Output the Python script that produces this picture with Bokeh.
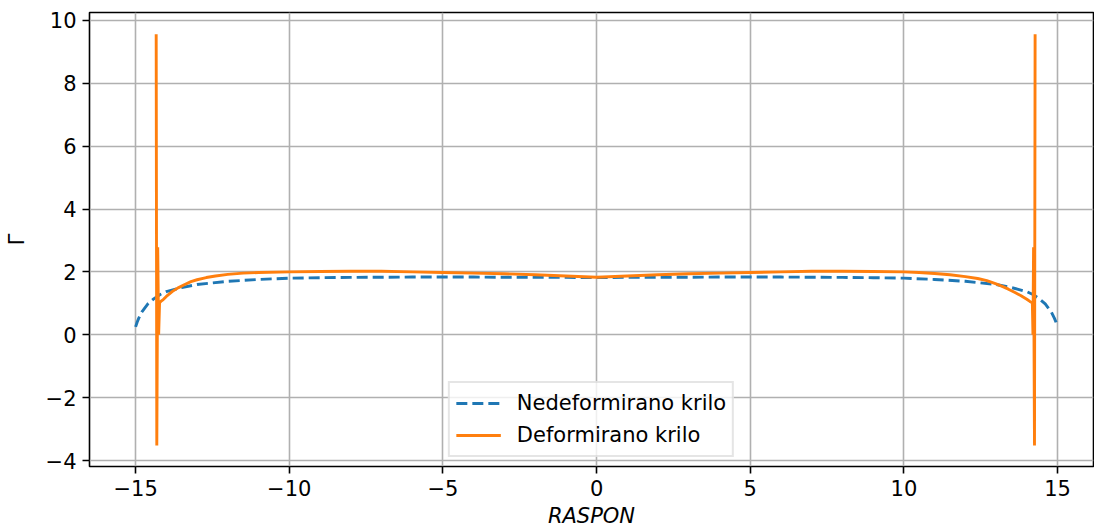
from bokeh.plotting import figure
from bokeh.models import Range1d, FixedTicker, Legend, LegendItem
from bokeh.embed import file_html
from bokeh.resources import INLINE

# Undeformed wing (dashed blue)
blue_x_left = [-15.0, -14.95, -14.9, -14.8, -14.6, -14.4, -14.2, -14.0, -13.5, -13.0, -12.0, -11.0, -10.0,
               -9.0, -8.0, -7.0, -6.0, -5.0, -4.0, -3.0, -2.0, -1.0]
blue_y_left = [0.25, 0.40, 0.52, 0.72, 0.98, 1.15, 1.28, 1.37, 1.50, 1.60, 1.70, 1.76, 1.80,
               1.815, 1.825, 1.83, 1.835, 1.835, 1.835, 1.83, 1.83, 1.825]
blue_x = blue_x_left + [0.0] + [-v for v in reversed(blue_x_left)]
blue_y = blue_y_left + [1.82] + list(reversed(blue_y_left))

# Deformed wing (solid orange)
orange_x = [-14.33, -14.31, -14.28, -14.25, -14.22, -14.18, -14.1, -14.0, -13.8, -13.6, -13.4, -13.2, -13.0,
            -12.7, -12.4, -12.0, -11.5, -11.0, -10.0, -9.0, -8.0, -7.0, -6.0, -5.0, -4.0, -3.0, -2.0, -1.0,
            0.0,
            1.0, 2.0, 3.0, 4.0, 5.0, 6.0, 7.0, 8.0, 9.0, 10.0,
            10.5, 11.0, 11.5, 12.0, 12.4, 12.7, 13.0,
            13.2, 13.4, 13.6, 13.8, 14.0, 14.1, 14.15, 14.18, 14.20, 14.22, 14.25, 14.27]
orange_y = [9.56, -3.52, 2.78, 0.0, 1.02, 1.06, 1.12, 1.22, 1.38, 1.50, 1.60, 1.69, 1.75,
            1.82, 1.87, 1.92, 1.96, 1.98, 2.0, 2.01, 2.02, 2.02, 2.0, 1.98, 1.96, 1.94, 1.91, 1.87,
            1.83,
            1.87, 1.91, 1.94, 1.96, 1.98, 2.0, 2.02, 2.02, 2.01, 2.0,
            1.98, 1.95, 1.91, 1.85, 1.79, 1.72, 1.62,
            1.54, 1.45, 1.35, 1.25, 1.13, 1.06, 1.03, 1.02, 0.0, 2.78, -3.52, 9.56]

x_ticks = [-15, -10, -5, 0, 5, 10, 15]
y_ticks = [-4, -2, 0, 2, 4, 6, 8, 10]

FONT = "DejaVu Sans"
FS = "21px"

p = figure(width=1094, height=530, output_backend="svg", toolbar_location=None,
           x_range=Range1d(-16.5, 16.17), y_range=Range1d(-4.19, 10.25),
           min_border_left=89, min_border_right=1, min_border_top=12, min_border_bottom=64)

r1 = p.line(blue_x, blue_y, line_color="#1f77b4", line_width=2.9, line_dash="11 5")
r2 = p.line(orange_x, orange_y, line_color="#ff7f0e", line_width=2.9)

p.outline_line_color = "black"
p.outline_line_width = 1.6
p.outline_line_alpha = 1.0

for ax, ticks in ((p.xaxis[0], x_ticks), (p.yaxis[0], y_ticks)):
    ax.ticker = FixedTicker(ticks=ticks)
    ax.major_label_overrides = {t: (str(t).replace("-", "\u2212")) for t in ticks}
    ax.minor_tick_line_color = None
    ax.major_tick_out = 7
    ax.major_tick_in = 0
    ax.major_tick_line_width = 1.6
    ax.axis_line_color = None
    ax.major_label_text_font = FONT
    ax.major_label_text_font_size = FS
    ax.major_label_text_color = "black"
    ax.axis_label_text_font = FONT
    ax.axis_label_text_font_size = FS
    ax.axis_label_text_color = "black"

p.xaxis.axis_label = "RASPON"
p.xaxis.axis_label_text_font_style = "italic"
p.xaxis.major_label_standoff = 6
p.xaxis.axis_label_standoff = 5
p.yaxis.axis_label = "Γ"
p.yaxis.axis_label_text_font_style = "normal"
p.yaxis.major_label_standoff = 6
p.yaxis.axis_label_standoff = 14

p.grid.grid_line_color = "#b0b0b0"
p.grid.grid_line_width = 1.6

legend = Legend(items=[LegendItem(label="Nedeformirano krilo", renderers=[r1]),
                       LegendItem(label="Deformirano krilo", renderers=[r2])],
                location="bottom_center")
legend.label_text_font = FONT
legend.label_text_font_size = FS
legend.label_text_color = "black"
legend.glyph_width = 45
legend.glyph_height = 28
legend.label_height = 28
legend.label_standoff = 16
legend.spacing = 4
legend.padding = 6
legend.margin = 9
legend.border_line_color = "#cccccc"
legend.border_line_width = 2
legend.background_fill_alpha = 0.8
p.add_layout(legend, "center")

open("out.html", "w").write(file_html(p, INLINE))
